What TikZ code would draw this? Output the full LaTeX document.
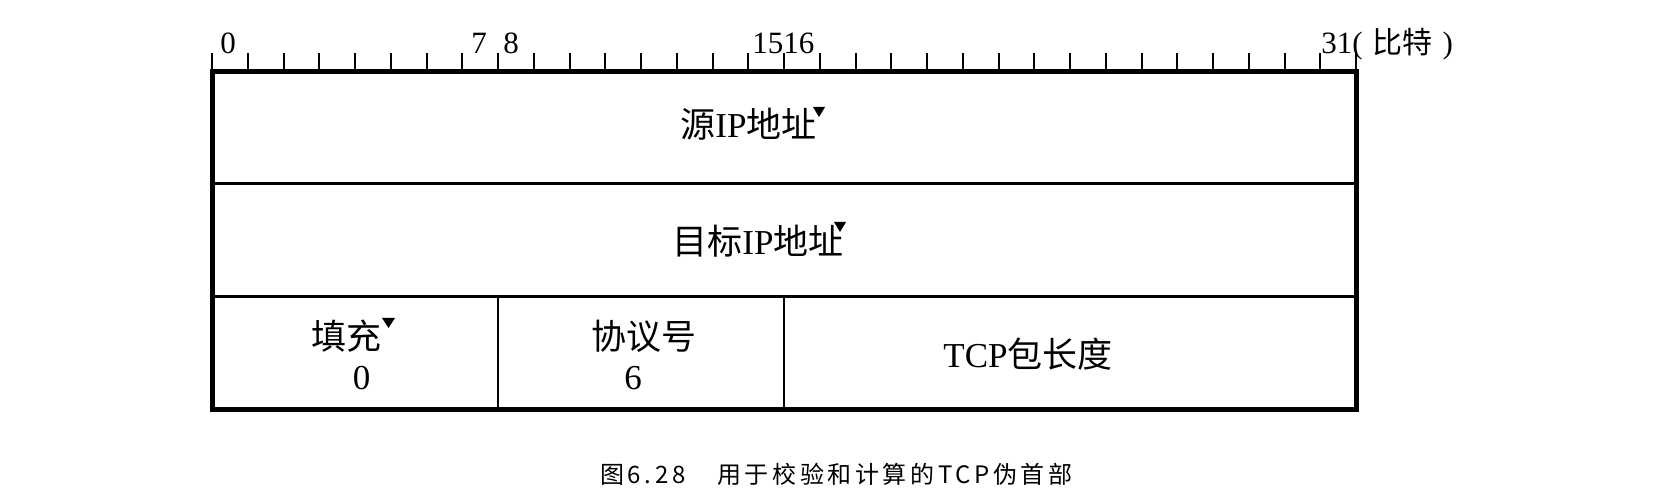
\documentclass[tikz,border=0pt]{standalone}
\usepackage{fontspec}
\setmainfont{Liberation Serif}
\newfontfamily\cjk{Noto Sans CJK SC}
\newfontfamily\capfont{Noto Sans CJK SC}[LetterSpace=15]
\newcommand{\zh}[1]{{\cjk #1}}
\begin{document}
\begin{tikzpicture}[x=0.5pt,y=-0.5pt,
  outer/.style={line width=2.5pt},
  inner/.style={line width=1.5pt},
  divider/.style={line width=1.3pt},
  tickline/.style={line width=1pt},
  lbl/.style={inner sep=0pt, anchor=base west, font=\fontsize{15.5}{17}\selectfont},
  field/.style={inner sep=0pt, anchor=base, font=\fontsize{17.5}{20}\selectfont},
  captext/.style={inner sep=0pt, anchor=base west, font=\capfont\fontsize{12}{14}\selectfont},
  tri/.style={fill=black}]
\useasboundingbox (0,0) rectangle (1654,491);
\fill[white] (0,0) rectangle (1654,491);
% frame
\coordinate (NW) at (212,72);
\coordinate (SE) at (1356,410);
\coordinate (r1w) at (212,184);
\coordinate (r1e) at (1356,184);
\coordinate (r2w) at (212,297);
\coordinate (r2e) at (1356,297);
\coordinate (c1t) at (498,297);
\coordinate (c1b) at (498,410);
\coordinate (c2t) at (784,297);
\coordinate (c2b) at (784,410);
\draw[inner] (r1w) -- (r1e);
\draw[inner] (r2w) -- (r2e);
\draw[divider] (c1t) -- (c1b);
\draw[divider] (c2t) -- (c2b);
\draw[outer] (NW) rectangle (SE);
% ruler ticks
\foreach \i in {0,...,32}
  \draw[tickline] ({212+\i*35.75},72) -- ({212+\i*35.75},53);
% ruler labels
\node[lbl] (b0) at (220,54) {0};
\node[lbl] (b7) at (471,54) {7};
\node[lbl] (b8) at (503,54) {8};
\node[lbl] (b15) at (752,54) {15};
\node[lbl] (b16) at (783,54) {16};
\node[lbl] (b31) at (1321,54) {31(\hspace{5pt}{\cjk\fontsize{15}{16}\selectfont 比特}\hspace{5pt})};
% fields
\node[field,anchor=base west] (src) at (680,138) {\zh{源}IP\zh{地址}};
\node[field,anchor=base west] (dst) at (672,255) {\zh{目标}IP\zh{地址}};
\node[field] (pad) at (346,350) {\zh{填充}};
\node[field] (padv) at (361.5,390) {0};
\node[field] (proto) at (644,350) {\zh{协议号}};
\node[field] (protov) at (633,390) {6};
\node[field,anchor=base west] (len) at (943,368) {TCP\zh{包长度}};
% small triangles
\fill[tri] (813,107) -- (825,107) -- (819,117) -- cycle;
\fill[tri] (834,222) -- (846,222) -- (840,232) -- cycle;
\fill[tri] (382,318) -- (395,318) -- (388.5,328) -- cycle;
% caption
\node[captext] (capA) at (600,483) {图6.28};
\node[captext] (capB) at (717,483) {用于校验和计算的TCP伪首部};
\end{tikzpicture}
\end{document}
